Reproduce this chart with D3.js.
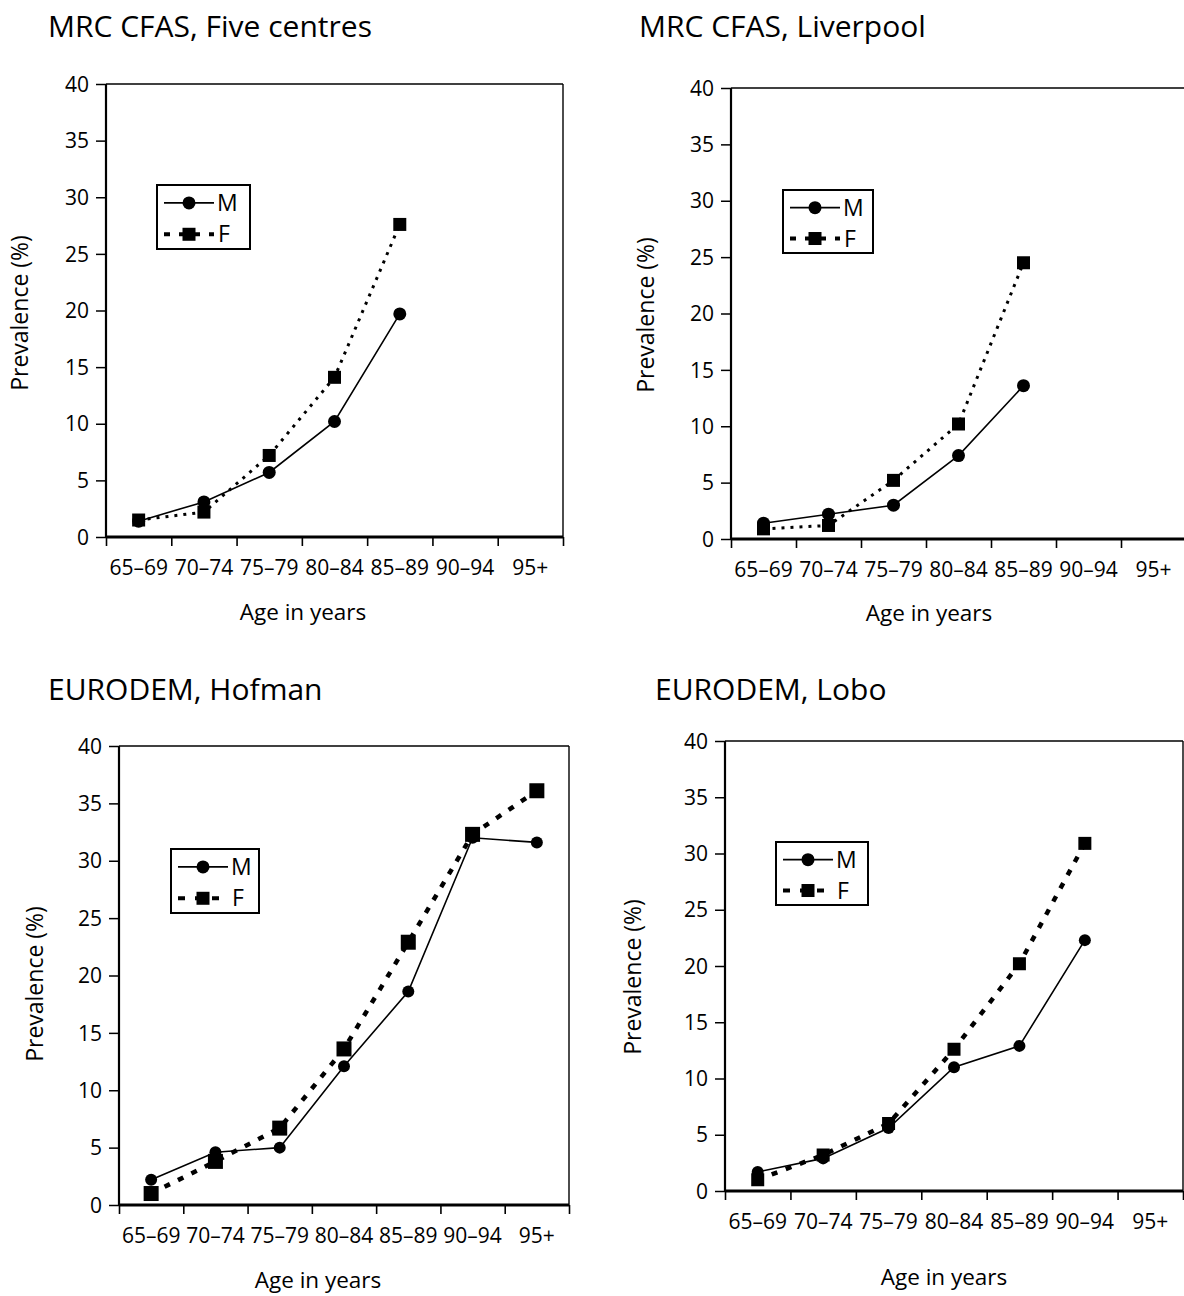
<!DOCTYPE html>
<html>
<head>
<meta charset="utf-8">
<script src="https://cdn.jsdelivr.net/npm/d3@7/dist/d3.min.js"></script>
<style>
  html, body { margin: 0; padding: 0; background: #fff; }
  svg { display: block; }
  text { font-family: "Open Sans", "Noto Sans", sans-serif; fill: #000; }
</style>
</head>
<body>
<svg id="chart" width="1184" height="1296"></svg>
<script>
// ---------- data ----------
const categories = ["65–69", "70–74", "75–79", "80–84", "85–89", "90–94", "95+"];
const yTicks = [0, 5, 10, 15, 20, 25, 30, 35, 40];
const panelTitles = ["MRC CFAS, Five centres", "MRC CFAS, Liverpool", "EURODEM, Hofman", "EURODEM, Lobo"];
const seriesNames = ["M", "F"];
const xAxisTitle = "Age in years";
const yAxisTitle = "Prevalence (%)";

const maleFiveCentres   = [1.4, 3.1, 5.7, 10.2, 19.7];
const femaleFiveCentres = [1.5, 2.2, 7.2, 14.1, 27.6];
const maleLiverpool     = [1.4, 2.2, 3.0, 7.4, 13.6];
const femaleLiverpool   = [0.9, 1.2, 5.2, 10.2, 24.5];
const maleHofman        = [2.2, 4.6, 5.0, 12.1, 18.6, 32.0, 31.6];
const femaleHofman      = [1.0, 3.8, 6.7, 13.6, 22.9, 32.3, 36.1];
const maleLobo          = [1.7, 2.9, 5.6, 11.0, 12.9, 22.3];
const femaleLobo        = [1.0, 3.2, 6.0, 12.6, 20.2, 30.9];

// ---------- layout (positions / styles) ----------
const panels = [
  { title: panelTitles[0], m: maleFiveCentres, f: femaleFiveCentres,
    left: 106, right: 563, top: 84, bottom: 537,
    tx: 48, ty: 37, axX: 303, axY: 620, ayX: 28, ayY: 313,
    lg: { x: 157, y: 185, w: 93, h: 64 }, dash: "3,6", fw: 3, sq: 13, r: 6.5, lgDash: "6,9" },
  { title: panelTitles[1], m: maleLiverpool, f: femaleLiverpool,
    left: 731, right: 1186, top: 88, bottom: 539,
    tx: 639, ty: 37, axX: 929, axY: 621, ayX: 654, ayY: 315,
    lg: { x: 783, y: 190, w: 90, h: 63 }, dash: "3,6", fw: 3, sq: 13, r: 6.5, lgDash: "6,9" },
  { title: panelTitles[2], m: maleHofman, f: femaleHofman,
    left: 119, right: 569, top: 746, bottom: 1205,
    tx: 48, ty: 700, axX: 318, axY: 1288, ayX: 43, ayY: 984,
    lg: { x: 171, y: 849, w: 88, h: 64 }, dash: "6,9", fw: 4.5, sq: 15, r: 6, lgDash: "7,10" },
  { title: panelTitles[3], m: maleLobo, f: femaleLobo,
    left: 725, right: 1183, top: 741, bottom: 1191,
    tx: 655, ty: 700, axX: 944, axY: 1285, ayX: 641, ayY: 977,
    lg: { x: 776, y: 842, w: 92, h: 63 }, dash: "6,9", fw: 4.5, sq: 13, r: 6, lgDash: "7,10" }
];

const svg = d3.select("#chart");

panels.forEach(p => {
  const g = svg.append("g");
  const x = d3.scaleBand().domain(categories).range([p.left, p.right]).padding(0);
  const xEdge = d3.scaleLinear().domain([0, categories.length]).range([p.left, p.right]);
  const y = d3.scaleLinear().domain([0, 40]).range([p.bottom, p.top]);

  // title
  g.append("text").attr("x", p.tx).attr("y", p.ty)
    .attr("font-size", 30).text(p.title);

  // frame: top and right borders (thin)
  g.append("line").attr("x1", p.left).attr("x2", p.right).attr("y1", p.top).attr("y2", p.top)
    .attr("stroke", "#000").attr("stroke-width", 1.4);
  g.append("line").attr("x1", p.right).attr("x2", p.right).attr("y1", p.top).attr("y2", p.bottom)
    .attr("stroke", "#000").attr("stroke-width", 1.4);

  // y axis
  const yAxis = d3.axisLeft(y).tickValues(yTicks).tickSize(10).tickPadding(7);
  const ya = g.append("g").attr("transform", `translate(${p.left},0)`).call(yAxis);
  ya.select(".domain").attr("stroke-width", 2.2).attr("d", `M0,${p.top}V${p.bottom}`);
  ya.selectAll(".tick line").attr("stroke-width", 1.5);
  ya.selectAll(".tick text").attr("font-size", 21).attr("font-family", "Open Sans")
    .attr("dy", "0.34em").attr("fill", "#000");

  // x axis: ticks at category boundaries
  const xTickAxis = d3.axisBottom(xEdge).tickValues(d3.range(categories.length + 1))
    .tickSize(9).tickFormat("");
  const xa = g.append("g").attr("transform", `translate(0,${p.bottom})`).call(xTickAxis);
  xa.select(".domain").attr("stroke-width", 3).attr("d", `M${p.left},0H${p.right}`);
  xa.selectAll(".tick line").attr("stroke-width", 1.6);

  // x labels centred on categories
  const xLab = d3.axisBottom(x).tickSize(0).tickPadding(23);
  const xl = g.append("g").attr("transform", `translate(0,${p.bottom})`).call(xLab);
  xl.select(".domain").remove();
  xl.selectAll(".tick text").attr("font-size", 21).attr("font-family", "Open Sans").attr("fill", "#000");

  // axis titles
  g.append("text").attr("x", p.axX).attr("y", p.axY).attr("text-anchor", "middle")
    .attr("font-size", 22.5).text(xAxisTitle);
  g.append("text").attr("transform", `translate(${p.ayX},${p.ayY}) rotate(-90)`)
    .attr("text-anchor", "middle").attr("font-size", 23).text(yAxisTitle);

  const cx = (d, i) => x(categories[i]) + x.bandwidth() / 2;
  const line = d3.line().x((d, i) => cx(d, i)).y(d => y(d));

  // female dotted line
  g.append("path").datum(p.f).attr("d", line).attr("fill", "none")
    .attr("stroke", "#000").attr("stroke-width", p.fw).attr("stroke-dasharray", p.dash);
  // male solid line
  g.append("path").datum(p.m).attr("d", line).attr("fill", "none")
    .attr("stroke", "#000").attr("stroke-width", 1.6);

  // male circles
  g.selectAll(".mc").data(p.m).enter().append("circle")
    .attr("cx", (d, i) => cx(d, i)).attr("cy", d => y(d)).attr("r", p.r).attr("fill", "#000");
  // female squares
  g.selectAll(".fs").data(p.f).enter().append("rect")
    .attr("x", (d, i) => cx(d, i) - p.sq / 2).attr("y", d => y(d) - p.sq / 2)
    .attr("width", p.sq).attr("height", p.sq).attr("fill", "#000");

  // legend
  const L = p.lg;
  const lg = g.append("g");
  lg.append("rect").attr("x", L.x).attr("y", L.y).attr("width", L.w).attr("height", L.h)
    .attr("fill", "#fff").attr("stroke", "#000").attr("stroke-width", 2);
  const r1 = L.y + L.h * 0.28, r2 = L.y + L.h * 0.77;
  const lx1 = L.x + 7, lx2 = L.x + 57, lm = (lx1 + lx2) / 2;
  lg.append("line").attr("x1", lx1).attr("x2", lx2).attr("y1", r1).attr("y2", r1)
    .attr("stroke", "#000").attr("stroke-width", 1.6);
  lg.append("circle").attr("cx", lm).attr("cy", r1).attr("r", 6.5).attr("fill", "#000");
  lg.append("line").attr("x1", lx1).attr("x2", lx2).attr("y1", r2).attr("y2", r2)
    .attr("stroke", "#000").attr("stroke-width", 4).attr("stroke-dasharray", p.lgDash);
  lg.append("rect").attr("x", lm - 6.5).attr("y", r2 - 6.5).attr("width", 13).attr("height", 13).attr("fill", "#000");
  lg.append("text").attr("x", lx2 + 3).attr("y", r1 + 8).attr("font-size", 23).text(seriesNames[0]);
  lg.append("text").attr("x", lx2 + 4).attr("y", r2 + 8).attr("font-size", 23).text(seriesNames[1]);
});
</script>
</body>
</html>
